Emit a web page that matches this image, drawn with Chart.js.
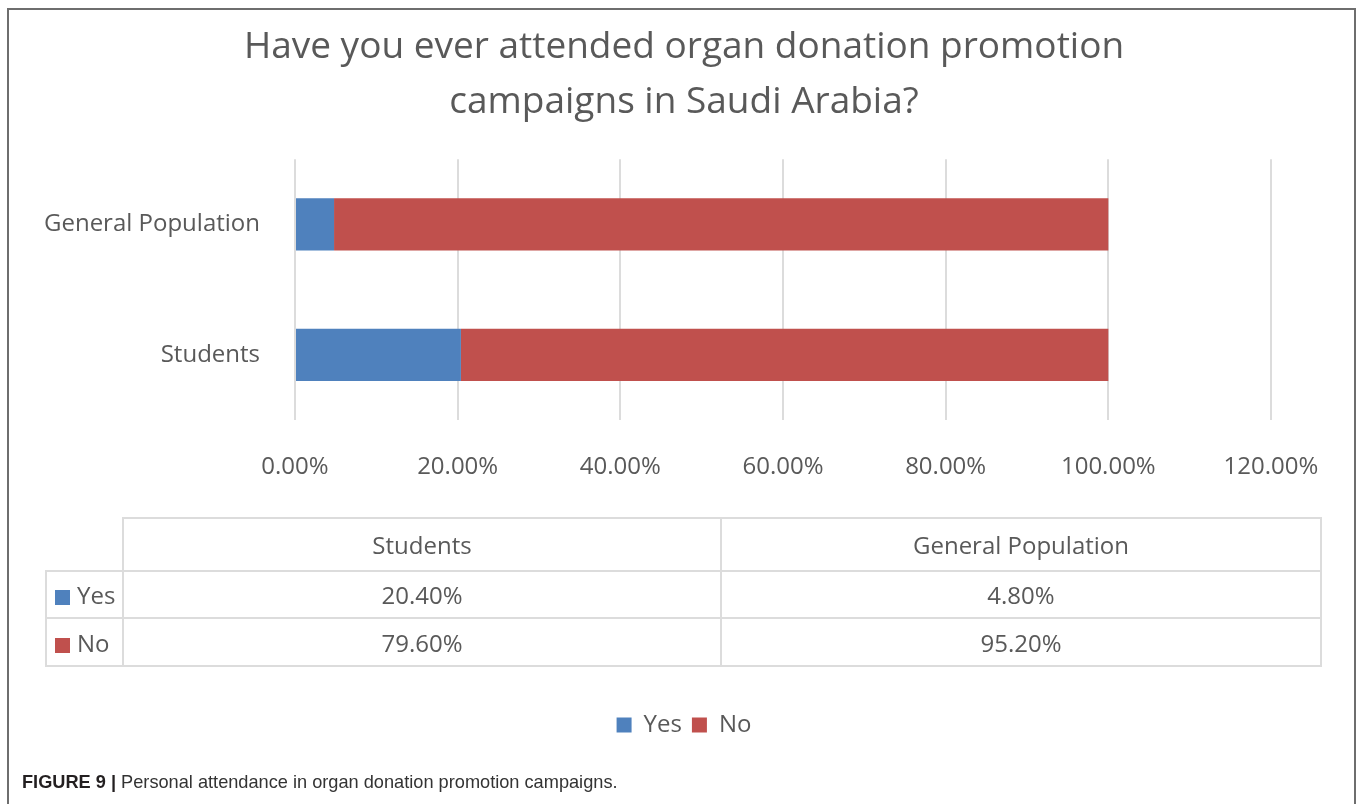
<!DOCTYPE html>
<html>
<head>
<meta charset="utf-8">
<script src="https://cdn.jsdelivr.net/npm/chart.js@4.4.1/dist/chart.umd.min.js"></script>
<style>
    html, body { margin: 0; padding: 0; background: #fff; }
    #wrap { position: relative; width: 1360px; height: 804px; overflow: hidden; font-family: "Open Sans", sans-serif; }
    #chart { position: absolute; left: 0; top: 0; }
    #frame {
        position: absolute; left: 7px; top: 8px; width: 1349px; height: 820px;
        border: 2px solid #6e6e6e; border-bottom: none; box-sizing: border-box; pointer-events: none;
    }
    #dataTable {
        position: absolute; left: 45px; top: 517px; width: 1275px;
        border-collapse: collapse; table-layout: fixed; color: #595959; font-size: 24px;
    }
    #dataTable td { border: 2px solid #dcdcdc; text-align: center; padding: 0; white-space: nowrap; }
    #dataTable td.blank { border-top: none; border-left: none; }
    #dataTable td.key { text-align: left; padding-left: 8px; }
    #dataTable .swatch { display: inline-block; width: 15px; height: 15px; margin-right: 7px; vertical-align: -1px; }
    #caption {
        position: absolute; left: 22px; top: 773px; color: #333;
        font: 18.2px/18px "Liberation Sans", Arial, sans-serif;
    }
    #caption b { color: #231f20; }
</style>
</head>
<body>
<div id="wrap">
    <canvas id="chart" width="1360" height="804"></canvas>
    <table id="dataTable"></table>
    <div id="frame"></div>
    <div id="caption"><b>FIGURE 9 |</b> Personal attendance in organ donation promotion campaigns.</div>
</div>
<script>
const categories = ["Students", "General Population"];
const seriesNames = ["Yes", "No"];
const yesValues = [20.4, 4.8];
const noValues = [79.6, 95.2];
const seriesColors = ["#4f81bd", "#c0504d"];
const titleLines = ["Have you ever attended organ donation promotion", "campaigns in Saudi Arabia?"];

const textColor = "#595959";
const fmt = v => Number(v).toFixed(2) + "%";

Chart.defaults.font.family = '"Open Sans", sans-serif';

// data table under the axis
const seriesValues = [yesValues, noValues];
const table = document.getElementById("dataTable");
let rows = '<colgroup><col style="width:77px"><col style="width:598px"><col style="width:600px"></colgroup>';
rows += '<tr style="height:53px"><td class="blank"></td>' + categories.map(c => `<td>${c}</td>`).join("") + "</tr>";
seriesNames.forEach((name, i) => {
    rows += `<tr style="height:${i === 0 ? 47 : 48}px"><td class="key"><span class="swatch" style="background:${seriesColors[i]}"></span>${name}</td>`;
    rows += seriesValues[i].map(v => `<td>${fmt(v)}</td>`).join("") + "</tr>";
});
table.innerHTML = rows;

new Chart(document.getElementById("chart"), {
    type: "bar",
    data: {
        labels: categories,
        datasets: [
            { label: seriesNames[0], data: yesValues, backgroundColor: seriesColors[0] },
            { label: seriesNames[1], data: noValues, backgroundColor: seriesColors[1] }
        ]
    },
    options: {
        indexAxis: "y",
        responsive: false,
        animation: false,
        barPercentage: 0.4,
        categoryPercentage: 1,
        layout: { padding: { left: 8, right: 0, top: 0, bottom: 57 } },
        scales: {
            x: {
                stacked: true,
                min: 0,
                max: 120,
                grid: { color: "#dcdcdc", lineWidth: 2, drawTicks: false },
                border: { display: false },
                ticks: { stepSize: 20, padding: 33, color: textColor, font: { size: 24 }, callback: v => fmt(v) },
                // leave room below the axis for the data table, and a right margin
                afterFit: scale => { scale.height = 283; scale.paddingRight = 89; }
            },
            y: {
                stacked: true,
                reverse: true,
                grid: { display: false, drawTicks: false },
                border: { display: false },
                ticks: { padding: 35, color: textColor, font: { size: 24 } },
                afterFit: scale => { scale.width = 287; }
            }
        },
        plugins: {
            title: {
                display: true,
                text: titleLines,
                color: textColor,
                font: { size: 37, weight: "normal", lineHeight: 1.49 },
                padding: { top: 20, bottom: 29 }
            },
            legend: {
                position: "bottom",
                labels: { boxWidth: 15, boxHeight: 15, padding: 10, color: textColor, font: { size: 24 } }
            },
            tooltip: { enabled: false }
        }
    }
});
</script>
</body>
</html>
